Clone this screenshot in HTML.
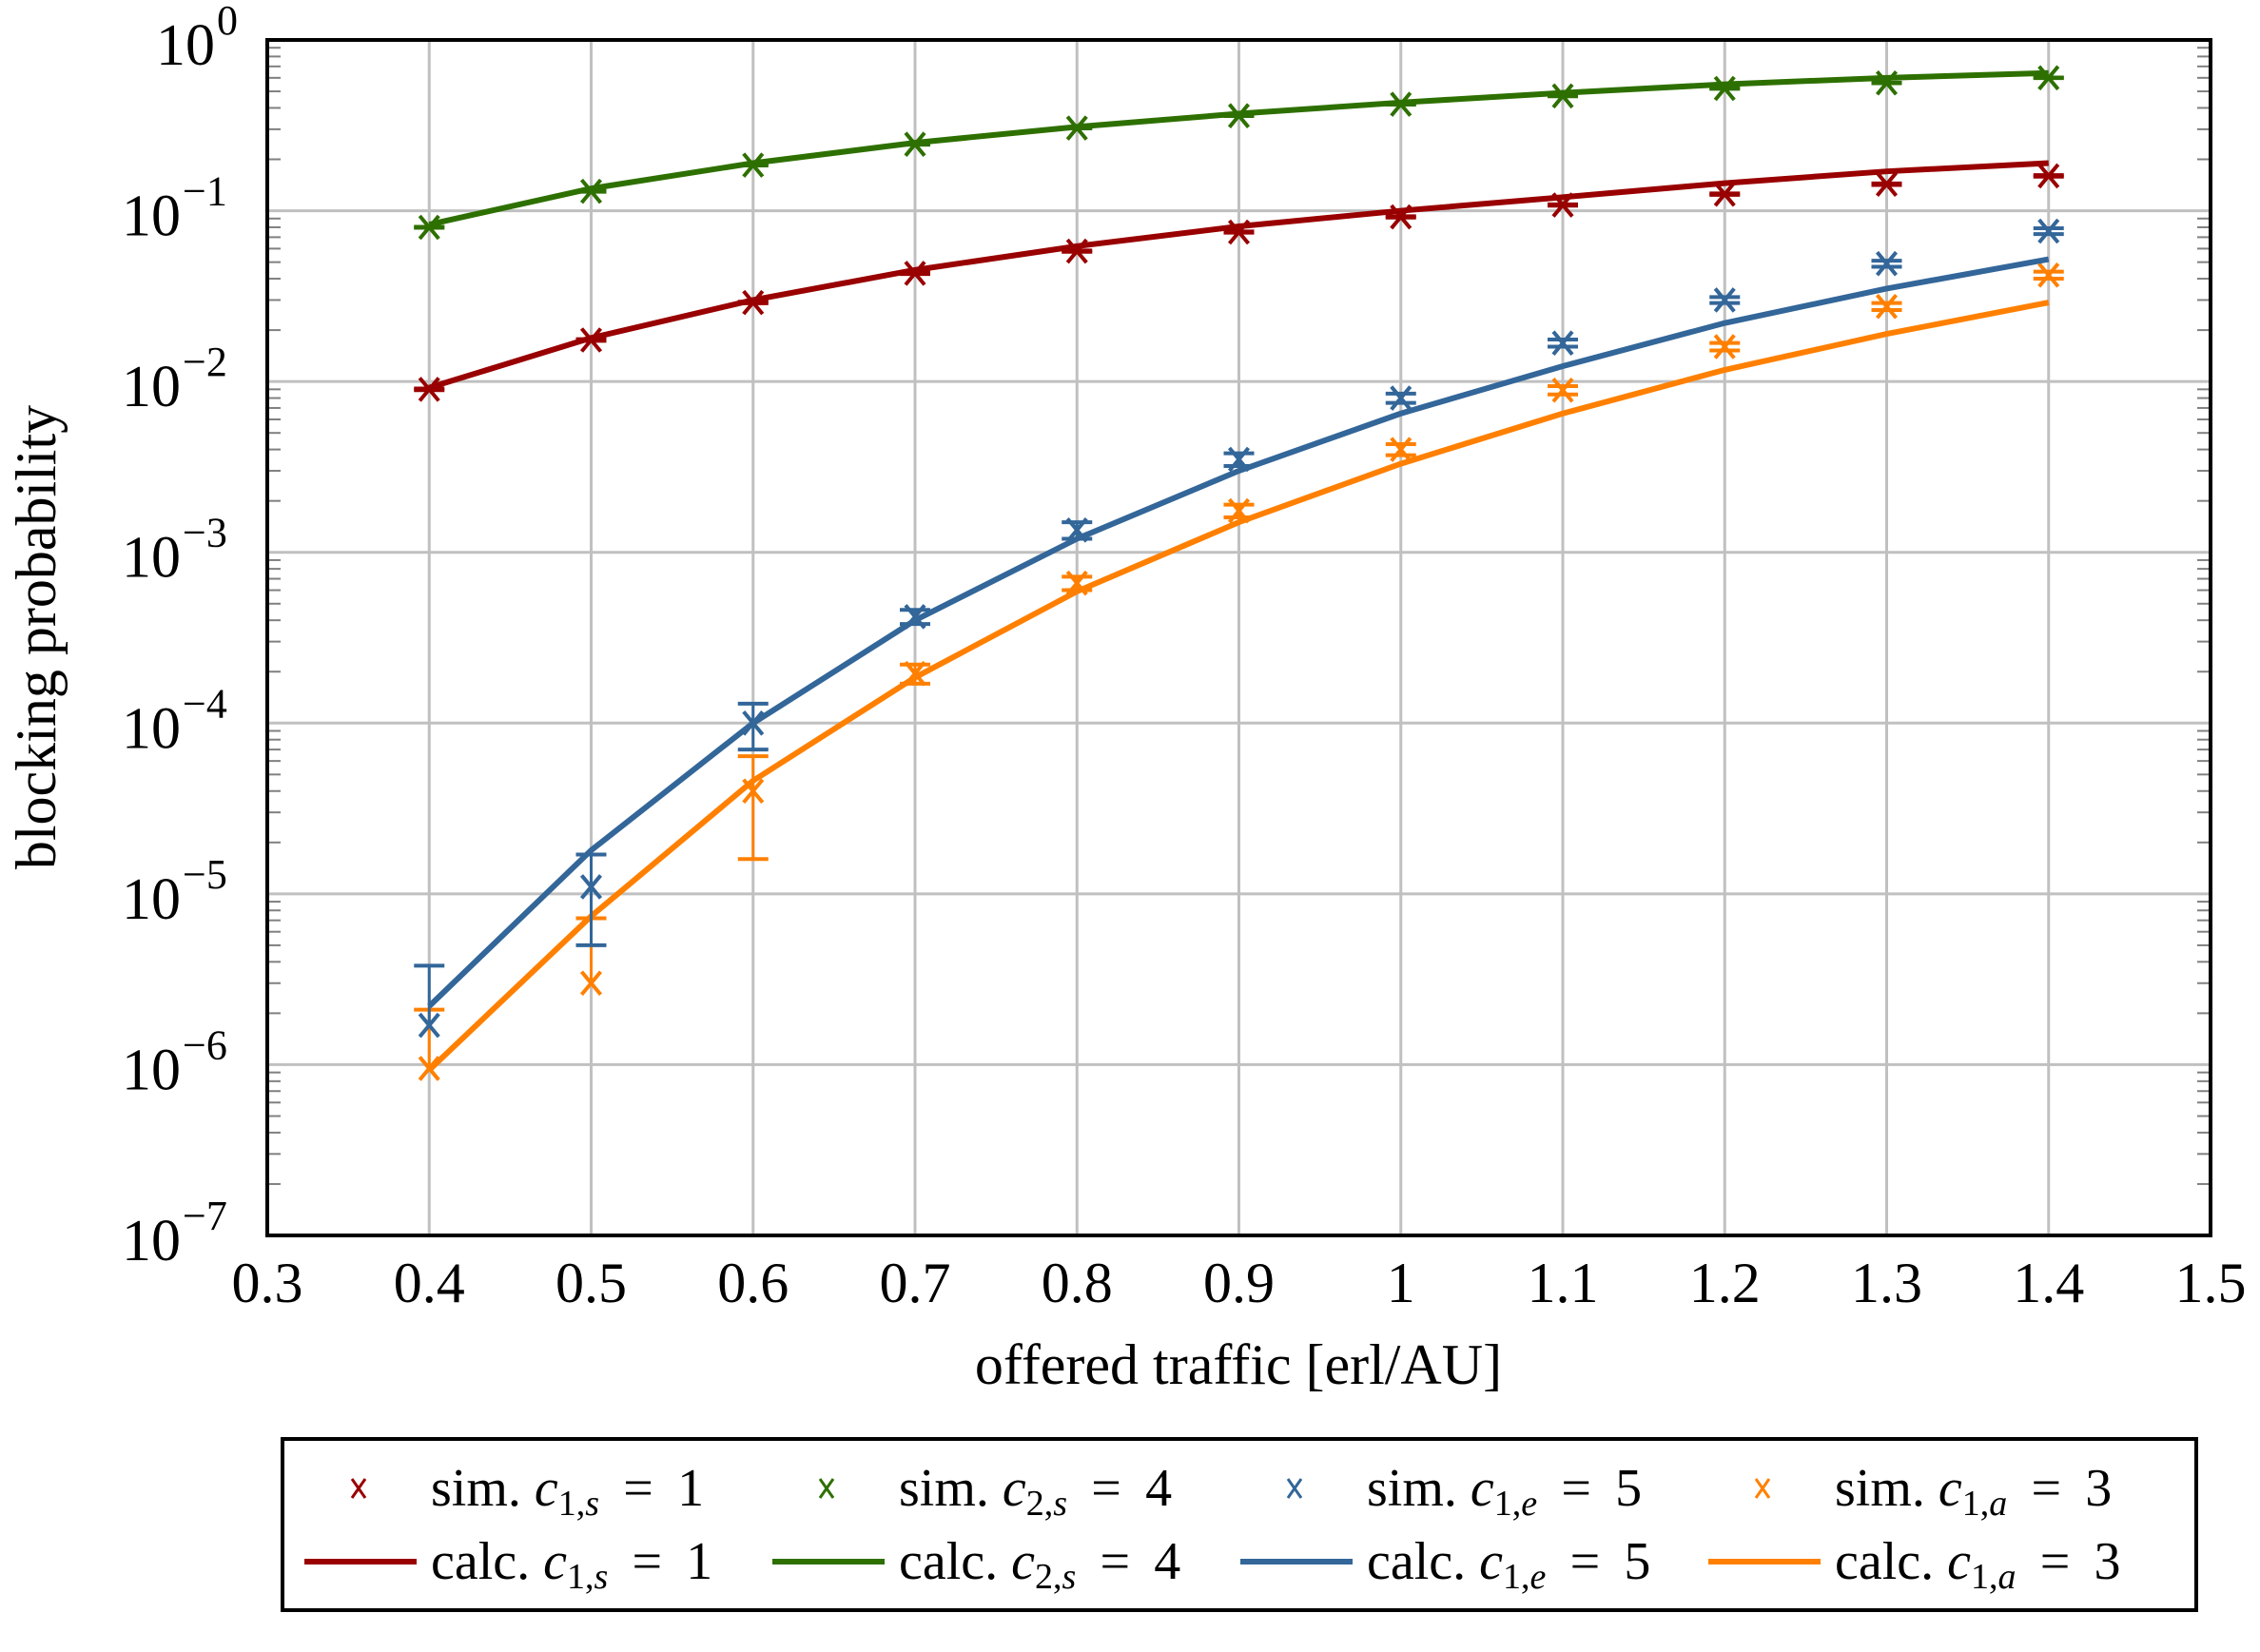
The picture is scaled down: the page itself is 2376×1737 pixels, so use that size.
<!DOCTYPE html>
<html><head><meta charset="utf-8"><style>
html,body{margin:0;padding:0;background:#fff;}
svg{display:block;font-family:"Liberation Serif",serif;}
</style></head><body>
<svg id="chart" width="2376" height="1737" viewBox="0 0 2376 1737" xmlns="http://www.w3.org/2000/svg">
<g id="grid"></g>
<g id="ticks"></g>
<g id="series"></g>
<rect x="281" y="42" width="2043" height="1257" fill="none" stroke="#000" stroke-width="4"/>
<g id="labels"></g>
<text x="1302" y="1455" font-size="60" text-anchor="middle">offered traffic [erl/AU]</text>
<text transform="translate(58,670) rotate(-90)" font-size="60" text-anchor="middle">blocking probability</text>
<g>
<rect x="297" y="1513" width="2012" height="180" fill="#fff" stroke="#000" stroke-width="4"/>
<g id="legend-items"></g>
</g>
</svg>
<script>
const xs = [0.4,0.5,0.6,0.7,0.8,0.9,1.0,1.1,1.2,1.3,1.4];
const xTicks = [0.3,0.4,0.5,0.6,0.7,0.8,0.9,1,1.1,1.2,1.3,1.4,1.5];
const xTickLabels = ["0.3","0.4","0.5","0.6","0.7","0.8","0.9","1","1.1","1.2","1.3","1.4","1.5"];
const yExps = [0,-1,-2,-3,-4,-5,-6,-7];
const redCalc = [0.0092,0.018,0.030,0.045,0.062,0.081,0.10,0.12,0.145,0.17,0.19];
const redSim = [0.009,0.0175,0.029,0.043,0.058,0.075,0.092,0.108,0.125,0.143,0.16];
const greenCalc = [0.083,0.135,0.19,0.25,0.31,0.37,0.43,0.49,0.55,0.60,0.64];
const greenSim = [0.08,0.13,0.185,0.245,0.305,0.36,0.42,0.47,0.52,0.56,0.60];
const blueCalc = [2.2e-6,1.8e-5,1.0e-4,4.0e-4,1.2e-3,3.0e-3,6.5e-3,0.0123,0.022,0.035,0.052];
const blueSim = [1.7e-6,1.1e-5,1.0e-4,4.2e-4,1.35e-3,3.5e-3,8.0e-3,0.0168,0.030,0.049,0.076];
const blueErr = [2.1e-6,6e-6,3e-5,4e-5,1.5e-4,3e-4,5e-4,8e-4,1.2e-3,2e-3,3e-3];
const orangeCalc = [9.3e-7,7.4e-6,4.6e-5,1.85e-4,5.9e-4,1.5e-3,3.3e-3,6.5e-3,0.0117,0.019,0.029];
const orangeSim = [9.5e-7,3e-6,4e-5,1.95e-4,6.6e-4,1.75e-3,4.0e-3,8.9e-3,0.016,0.0275,0.042];
const orangeErr = [1.15e-6,4.2e-6,2.4e-5,2.5e-5,6e-5,1.5e-4,3e-4,5e-4,8e-4,1.3e-3,2e-3];
const redErr = [1e-4,2e-4,3e-4,4e-4,5e-4,6e-4,8e-4,1e-3,1.2e-3,1.4e-3,1.6e-3];
const greenErr = [5e-4,8e-4,1e-3,1.2e-3,1.4e-3,1.6e-3,1.8e-3,2e-3,2.2e-3,2.4e-3,2.6e-3];

const NS="http://www.w3.org/2000/svg";
const L=281,R=2324,T=42,B=1299;
function X(v){return L+(v-0.3)/1.2*(R-L);}
function Y(v){return T+(-Math.log10(v))/7*(B-T);}
function mk(tag,attrs,parent){const e=document.createElementNS(NS,tag);for(const k in attrs)e.setAttribute(k,attrs[k]);parent.appendChild(e);return e;}
const grid=document.getElementById('grid'),ticks=document.getElementById('ticks'),labels=document.getElementById('labels'),series=document.getElementById('series');

xTicks.forEach((t,i)=>{
  if(i>0&&i<xTicks.length-1){const g=mk('line',{x1:X(t),x2:X(t),y1:T,y2:B,stroke:'#c0c0c0','stroke-width':3},grid);
  
  }
  const tx=mk('text',{x:X(t),y:B+70,'font-size':60,'text-anchor':'middle'},labels);
  tx.textContent=xTickLabels[i];
  
  
});
yExps.forEach(e=>{
  const v=Math.pow(10,e);
  if(e<0&&e>-7){const g=mk('line',{x1:L,x2:R,y1:Y(v),y2:Y(v),stroke:'#c0c0c0','stroke-width':3},grid);
  
  }
  const tx=mk('text',{x:e===0?226:190,y:Y(v)+26,'font-size':62,'text-anchor':'end'},labels);
  tx.textContent='10';
  
  
  const sup=mk('text',{x:e===0?228:192,y:Y(v)-6,'font-size':44,'text-anchor':'start'},labels);
  sup.textContent=e===0?'0':'\u2212'+(-e);
  
  
  if(e>-7){for(let m=2;m<=9;m++){const mv=v/10*m;const yy=Y(mv);
    mk('line',{x1:L,x2:L+14,y1:yy,y2:yy,stroke:'#808080','stroke-width':2},ticks);
    mk('line',{x1:R-14,x2:R,y1:yy,y2:yy,stroke:'#808080','stroke-width':2},ticks);}}
});

function drawSeries(name,color,calc,sim,err){
  const g=mk('g',{},series);
  
  
  const p=mk('polyline',{points:xs.map((x,i)=>X(x)+','+Y(calc[i])).join(' '),fill:'none',stroke:color,'stroke-width':6,'stroke-linejoin':'round'},g);
  
  
  xs.forEach((x,i)=>{
    const cx=X(x),cy=Y(sim[i]);
    const hi=sim[i]+err[i],lo=sim[i]-err[i];
    const yh=Y(hi),yl=lo>0?Y(lo):cy;
    const eb=mk('g',{},g);
    
    
    mk('line',{x1:cx,x2:cx,y1:yh,y2:yl,stroke:color,'stroke-width':3},eb);
    mk('line',{x1:cx-16,x2:cx+16,y1:yh,y2:yh,stroke:color,'stroke-width':4},eb);
    if(lo>0)mk('line',{x1:cx-16,x2:cx+16,y1:yl,y2:yl,stroke:color,'stroke-width':4},eb);
    const m=mk('path',{d:`M${cx-10},${cy-12}L${cx+10},${cy+12}M${cx-10},${cy+12}L${cx+10},${cy-12}`,stroke:color,'stroke-width':4,fill:'none'},g);
    
    
  });
}
drawSeries('orange','#ff8000',orangeCalc,orangeSim,orangeErr);
drawSeries('blue','#336699',blueCalc,blueSim,blueErr);
drawSeries('red','#990000',redCalc,redSim,redErr);
drawSeries('green','#2e7000',greenCalc,greenSim,greenErr);

const legNames=['red','green','blue','orange'];
const legColors=['#990000','#2e7000','#336699','#ff8000'];
const legSub=[['1','s','1'],['2','s','4'],['1','e','5'],['1','a','3']];
const lg=document.getElementById('legend-items');
legNames.forEach((n,i)=>{
  const x0=320+i*492;
  const m=mk('path',{d:`M${x0+50},${1555}L${x0+64},${1575}M${x0+50},${1575}L${x0+64},${1555}`,stroke:legColors[i],'stroke-width':3,fill:'none'},lg);
  
  
  const t=mk('text',{x:x0+133,y:1583,'font-size':56},lg);
  t.innerHTML=`sim.  <tspan font-style="italic">c</tspan><tspan font-size="38" dy="10">${legSub[i][0]},<tspan font-style="italic">${legSub[i][1]}</tspan></tspan><tspan dy="-10"> \u2009=\u2009 ${legSub[i][2]}</tspan>`;
  
  
  const l=mk('line',{x1:x0,x2:x0+118,y1:1642,y2:1642,stroke:legColors[i],'stroke-width':6},lg);
  
  
  const t2=mk('text',{x:x0+133,y:1660,'font-size':56},lg);
  t2.innerHTML=`calc.  <tspan font-style="italic">c</tspan><tspan font-size="38" dy="10">${legSub[i][0]},<tspan font-style="italic">${legSub[i][1]}</tspan></tspan><tspan dy="-10"> \u2009=\u2009 ${legSub[i][2]}</tspan>`;
  
  
});
</script>
</body></html>
